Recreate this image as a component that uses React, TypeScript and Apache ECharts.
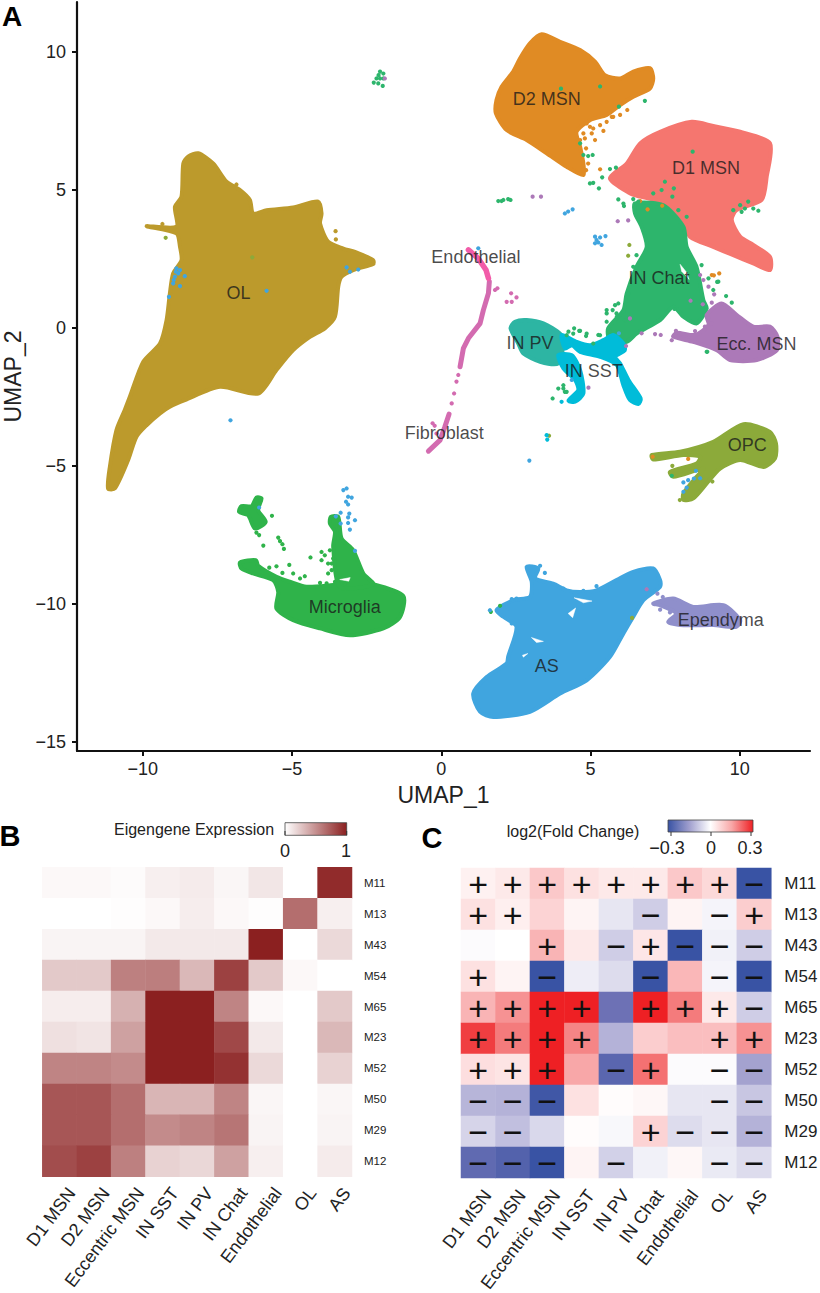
import React, { useEffect, useRef } from "react";
import * as echarts from "echarts";

type P = [number, number];

// ---------- Panel A: UMAP axis ticks ----------
const X_TICKS = [-10, -5, 0, 5, 10];
const Y_TICKS = [-15, -10, -5, 0, 5, 10];

// ---------- Panel A: cluster outlines (UMAP units) ----------
const OL: P[] = [[-8.14,6.32],[-7.64,5.95],[-7.19,5.29],[-6.74,4.99],[-6.41,4.63],[-6.30,4.14],[-5.85,4.26],[-4.96,4.36],[-4.12,4.57],[-4.01,4.14],[-4.06,3.78],[-3.79,3.12],[-3.28,2.87],[-2.89,2.75],[-2.28,2.45],[-2.28,2.31],[-2.95,2.09],[-3.34,1.85],[-3.45,1.49],[-3.56,0.40],[-3.90,-0.02],[-4.40,-0.33],[-4.96,-0.81],[-5.52,-1.53],[-6.13,-2.38],[-7.41,-2.14],[-8.59,-2.62],[-9.09,-2.86],[-9.42,-3.10],[-9.87,-3.53],[-10.21,-3.95],[-10.49,-4.80],[-10.93,-5.82],[-11.16,-5.82],[-11.10,-5.04],[-10.88,-3.71],[-10.60,-2.98],[-10.43,-2.50],[-9.98,-1.23],[-9.42,-0.57],[-9.20,0.28],[-9.09,1.24],[-8.98,1.97],[-8.70,2.45],[-8.75,2.93],[-8.87,3.42],[-9.87,3.68],[-8.87,3.66],[-8.92,4.38],[-8.70,4.75],[-8.64,5.95],[-8.48,6.20]];
const D2: P[] = [[3.36,10.63],[3.98,10.36],[4.65,10.06],[5.15,9.64],[5.48,9.15],[5.99,9.03],[6.43,9.28],[6.99,9.40],[7.10,9.03],[6.99,8.67],[6.43,8.37],[5.99,8.07],[5.54,7.71],[4.98,7.52],[4.53,7.10],[4.65,6.56],[4.76,5.95],[4.76,5.53],[4.20,5.83],[3.53,6.32],[2.86,6.80],[2.19,7.16],[1.83,7.77],[1.85,8.25],[2.02,8.73],[2.41,9.28],[2.64,9.76],[2.97,10.30]];
const D1: P[] = [[8.39,7.46],[9.11,7.31],[10.01,7.10],[11.01,6.68],[10.90,5.47],[10.73,4.63],[9.89,4.26],[9.73,3.90],[10.01,3.30],[10.45,3.00],[11.01,2.57],[11.01,2.09],[10.45,2.33],[9.78,2.63],[9.11,2.93],[8.33,3.30],[8.11,3.90],[7.55,4.50],[6.66,4.75],[6.32,4.87],[5.65,5.41],[6.21,5.95],[6.66,6.68],[7.33,7.10]];
const CHAT: P[] = [[6.49,4.50],[7.44,4.44],[8.11,3.66],[8.22,2.93],[8.55,2.21],[8.78,1.00],[8.89,0.70],[8.55,0.16],[8.11,0.40],[7.77,0.76],[7.33,0.28],[6.54,-0.21],[6.21,-0.51],[5.65,-0.45],[5.59,-0.02],[6.10,0.64],[6.21,1.24],[6.54,2.21],[6.88,2.93],[6.71,3.66],[6.49,4.14]];
const PV: P[] = [[2.86,0.28],[3.42,0.16],[3.98,-0.21],[4.09,-0.57],[3.92,-1.29],[3.31,-1.23],[2.75,-0.93],[2.58,-0.57],[2.32,-0.02],[2.47,0.22]];
const SST_MAIN: P[] = [[4.03,-0.26],[4.54,-0.51],[4.98,-0.63],[5.43,-0.45],[5.76,-0.26],[6.10,-0.57],[6.15,-0.81],[5.82,-1.05],[5.99,-1.29],[6.27,-1.89],[6.68,-2.56],[6.60,-2.76],[6.32,-2.62],[6.10,-2.08],[5.88,-1.35],[5.32,-1.05],[4.65,-0.87],[4.37,-0.63],[4.15,-0.75]];
const SST_LOWER: P[] = [[3.92,-0.99],[4.37,-0.99],[4.65,-1.53],[4.76,-2.38],[4.48,-2.68],[4.26,-2.64],[4.59,-2.26],[4.48,-1.89],[4.09,-1.47]];
const ECC: P[] = [[9.39,0.88],[9.90,0.46],[10.45,0.04],[11.01,0.04],[11.26,-0.32],[11.24,-0.81],[10.57,-1.17],[9.67,-1.17],[9.23,-0.81],[8.44,-0.51],[7.77,-0.32],[7.89,-0.18],[8.50,-0.26],[8.95,0.10],[8.89,0.46]];
const AS: P[] = [[2.86,-8.66],[3.25,-8.72],[3.14,-9.08],[3.75,-9.27],[4.20,-9.51],[4.65,-9.57],[5.20,-9.51],[5.87,-9.14],[6.43,-8.84],[7.10,-8.72],[7.33,-9.14],[7.33,-9.38],[6.77,-9.87],[6.43,-10.47],[6.10,-11.07],[5.65,-11.92],[4.87,-12.77],[3.98,-13.25],[2.97,-13.91],[1.74,-14.10],[1.30,-13.91],[1.07,-13.25],[1.52,-12.65],[2.19,-12.16],[2.24,-11.92],[2.52,-10.83],[2.08,-10.47],[1.85,-10.23],[2.41,-9.87],[2.97,-9.75],[3.03,-9.20]];
const EPENDYMA: P[] = [[7.10,-9.99],[7.77,-9.81],[8.44,-10.11],[9.45,-10.05],[10.01,-10.59],[9.89,-10.83],[9.11,-10.77],[8.00,-10.77],[7.60,-10.65],[7.88,-10.35],[7.33,-10.05]];
const OPC: P[] = [[7.05,-4.61],[8.00,-4.49],[9.11,-4.13],[10.12,-3.49],[11.01,-3.77],[11.21,-4.19],[11.18,-4.73],[10.79,-5.04],[10.01,-4.79],[9.34,-5.10],[8.89,-5.64],[8.44,-6.18],[8.11,-6.24],[8.11,-6.00],[8.55,-5.40],[8.78,-5.10],[7.77,-5.40],[7.66,-5.22],[8.55,-4.92],[8.67,-4.67],[8.11,-4.61],[7.10,-4.77]];
const MICRO: P[] = [[-6.74,-8.50],[-6.21,-8.42],[-6.13,-8.62],[-5.52,-9.02],[-5.07,-9.20],[-4.51,-9.38],[-3.62,-9.32],[-2.95,-9.26],[-2.28,-9.29],[-1.27,-9.72],[-1.38,-10.47],[-1.94,-10.89],[-3.06,-11.14],[-4.06,-10.89],[-4.96,-10.59],[-5.52,-10.17],[-5.46,-9.57],[-5.63,-9.14],[-6.30,-8.90],[-6.69,-8.72]];
const MICRO_SPIKE: P[] = [[-3.70,-6.85],[-3.45,-6.85],[-3.34,-7.63],[-2.95,-8.06],[-2.61,-8.90],[-2.28,-9.29],[-3.39,-9.39],[-3.62,-7.93],[-3.56,-7.39],[-3.73,-7.09]];
const MICRO_ISLET: P[] = [[-6.19,-6.15],[-6.02,-6.18],[-6.13,-6.61],[-5.88,-7.03],[-6.24,-7.27],[-6.47,-6.79],[-6.77,-6.67],[-6.69,-6.46],[-6.35,-6.46]];
const HOLES: P[][] = [
  [[4.25,-10.35],[4.50,-10.15],[4.40,-10.50]],
  [[4.45,-9.78],[5.05,-9.90],[4.76,-9.96]],
  [[3.02,-11.22],[3.42,-11.36],[3.19,-11.40]],
  [[2.72,-11.86],[2.90,-11.80],[2.75,-11.93]],
  [[8.00,2.30],[8.22,2.00],[8.30,1.75],[8.05,2.05]],
  [[-3.40,-9.12],[-3.05,-9.05],[-3.10,-9.18]],
];
const ENDO_LINE: P[] = [[0.91,2.82],[1.24,2.51],[1.50,2.09],[1.58,1.79]];
const FIBRO_LINE: P[] = [[1.61,1.67],[1.58,1.25],[1.41,0.64],[1.30,0.16],[0.91,-0.38],[0.74,-0.75],[0.63,-1.41]];
const FIBRO_TAIL: P[] = [[0.26,-3.13],[0.12,-3.59],[-0.04,-4.07],[-0.43,-4.47]];

// ---------- Panel A: separate cells ----------
const DOTS_GREEN: P[] = [[4.01,8.66],[5.32,8.74],[6.82,8.22],[5.95,8.01],[4.76,6.26],[4.92,6.22],[5.07,6.26],[4.65,6.68],[4.98,5.23],[5.09,5.25],[5.28,5.05],[5.39,5.45],[5.65,5.75],[5.85,5.80],[5.93,4.65],[6.10,4.50],[6.12,4.41],[6.43,4.66],[6.60,4.57],[7.10,4.87],[7.38,4.99],[7.49,5.29],[7.79,5.05],[7.74,4.75],[8.22,4.02],[7.94,4.26],[8.42,6.38],[9.78,4.26],[10.01,4.44],[10.28,4.57],[10.17,4.32],[10.45,4.32],[10.62,4.24],[10.06,4.20],[8.72,2.27],[8.95,1.79],[9.28,1.67],[5.74,0.64],[5.93,0.88],[5.54,0.52],[5.87,0.52],[6.54,2.63],[6.43,2.21],[6.26,1.24],[4.42,-0.21],[4.20,-0.27],[4.62,-0.11],[4.87,-0.21],[5.09,-0.57],[5.32,-0.27],[4.09,-2.20],[3.92,-2.20],[4.20,-2.32],[3.73,-2.56],[8.89,-0.87],[1.91,4.59],[2.08,4.63],[2.24,4.66],[2.32,4.63],[2.02,4.59],[-2.05,9.28],[-1.94,9.21],[-2.17,9.03],[-2.05,9.03],[-2.26,8.88],[-2.11,8.85],[-1.94,9.03],[-1.96,8.76],[-2.10,9.15],[9.54,1.15],[9.73,0.91],[7.81,0.68],[8.91,-0.87],[9.11,1.37],[9.24,1.66],[4.26,-0.14],[4.45,-0.02],[4.65,-0.11],[4.85,-0.30],[5.26,-0.26],[5.54,0.22],[4.14,-2.32],[4.09,-2.08],[5.54,0.64],[5.82,0.82],[6.10,0.58],[5.88,0.40],[6.15,0.28],[5.65,-0.14],[7.72,-5.36]];
const DOTS_MICRO: P[] = [[-6.19,-7.42],[-6.10,-7.51],[-5.96,-7.89],[-5.67,-6.81],[-5.46,-7.60],[-5.40,-7.73],[-5.32,-7.84],[-5.27,-8.01],[-4.38,-8.32],[-4.01,-8.12],[-4.01,-8.42],[-3.73,-8.06],[-3.79,-8.54],[-3.67,-8.78],[-3.79,-8.90],[-3.51,-8.90],[-5.09,-8.59],[-5.76,-8.69],[-5.52,-8.64],[-5.32,-8.88],[-4.96,-8.90],[-4.73,-9.08],[-4.57,-9.00],[-4.06,-9.24],[-3.84,-9.26],[-3.56,-9.20],[-3.23,-9.26],[-3.90,-8.24],[-3.62,-8.36],[-3.67,-8.54],[1.66,-10.29],[1.97,-10.07]];
const DOTS_BLUE: P[] = [[-3.28,-5.88],[-3.17,-5.82],[-3.12,-6.12],[-3.00,-6.15],[-3.19,-6.30],[-3.12,-6.40],[-3.37,-6.70],[-3.08,-6.73],[-3.12,-6.87],[-2.89,-6.97],[-3.12,-7.07],[-3.06,-7.31],[-3.53,-6.83],[-3.37,-7.09],[-2.89,-8.08],[-6.10,-6.51],[-7.06,-3.35],[-8.87,2.15],[-8.92,1.85],[-8.98,1.61],[-8.75,2.09],[-8.59,1.87],[-8.75,1.51],[-9.12,1.12],[-8.81,1.97],[-8.89,2.03],[-8.96,1.73],[-5.85,1.34],[-3.17,2.19],[-2.78,2.11],[-3.06,2.03],[4.14,4.14],[4.25,4.21],[4.40,4.29],[5.15,3.30],[5.20,3.18],[5.32,3.27],[5.15,3.06],[5.37,3.00],[5.50,3.32],[5.26,3.09],[2.95,-4.81],[8.11,-5.60],[8.27,-5.52],[8.53,-5.18],[8.67,-5.45],[8.46,-5.46],[8.22,-5.79],[8.11,-5.94],[1.63,-10.23],[4.37,-1.89],[5.95,-0.20],[1.24,2.88],[2.36,-9.83],[2.52,-9.81],[2.24,-10.17],[2.36,-10.71],[4.09,-9.45],[4.48,-9.63],[4.76,-9.53],[5.20,-9.36],[5.54,-9.42],[3.47,-8.88],[3.31,-8.62]];
const DOTS_PURPLE: P[] = [[3.06,4.75],[3.34,4.75],[5.91,3.86],[6.26,3.89],[-1.89,9.03],[8.35,0.98],[8.76,0.85],[9.06,0.91],[9.14,1.21],[8.95,1.49],[8.78,1.73],[8.67,1.91],[8.83,0.04],[8.50,-0.12],[8.95,0.34],[9.06,0.16],[7.16,-0.23],[7.35,-0.26],[7.72,-0.45],[7.86,-0.11],[4.93,-2.17],[6.19,-0.66],[6.32,0.34],[6.71,-0.20],[6.88,-9.47]];
const DOTS_ORANGE: P[] = [[6.66,4.59],[6.91,4.29],[7.40,4.42],[5.32,5.74],[9.06,1.91],[9.13,1.90],[9.31,1.97],[8.27,-4.75],[7.08,-4.67],[5.15,6.80],[5.43,7.13],[6.23,7.89],[5.99,7.71],[5.71,7.64],[4.98,7.28],[4.76,7.04],[5.04,7.04],[4.81,6.86],[4.87,7.40],[5.09,7.22],[5.32,7.34],[5.54,7.46],[5.76,7.64],[4.65,6.80],[4.85,6.50],[4.92,5.95],[4.85,5.71]];
const DOTS_OLIVE: P[] = [[6.30,3.00],[6.26,2.61],[3.61,-3.91],[7.74,-5.00],[9.08,-5.57],[7.99,-6.24],[6.39,-10.51],[-6.33,2.55],[-9.23,3.26]];
const DOTS_OL: P[] = [[-9.34,3.76],[-6.86,5.19],[-3.54,3.50],[-3.53,3.20]];
const DOTS_CYAN: P[] = [[3.53,-3.89],[3.55,-4.05],[4.03,-2.68]];
const DOTS_FIBRO: P[] = [[0.57,-1.71],[0.51,-1.95],[0.43,-2.38],[0.35,-2.74],[-0.29,-3.46],[-0.16,-3.83],[-0.22,-3.55],[1.88,1.43],[1.80,1.37],[2.34,1.25],[2.52,1.10],[2.36,0.94],[2.19,0.94]];
const DOTS_EPEND: P[] = [[7.33,-10.21],[7.66,-10.31],[7.24,-9.63],[7.42,-9.75]];

// ---------- Panel A: cluster names ----------
const CLUSTER_LABELS: [string, number, number][] = [
  ["OL", -6.79, 1.27], ["D2 MSN", 3.53, 8.29], ["D1 MSN", 8.87, 5.77], ["Endothelial", 1.16, 2.55],
  ["IN Chat", 7.29, 1.79], ["Ecc. MSN", 10.56, -0.60], ["IN PV", 2.97, -0.54], ["IN SST", 5.11, -1.56],
  ["Fibroblast", 0.10, -3.81], ["OPC", 10.25, -4.25], ["Microglia", -3.23, -10.13], ["AS", 3.53, -12.24],
  ["Ependyma", 9.36, -10.57],
];

// ---------- Panels B and C ----------
const CELL_TYPES = ["D1 MSN", "D2 MSN", "Eccentric MSN", "IN SST", "IN PV", "IN Chat", "Endothelial", "OL", "AS"];
const MODULES = ["M11", "M13", "M43", "M54", "M65", "M23", "M52", "M50", "M29", "M12"];
const EIGENGENE = [
  [0.03, 0.03, 0.02, 0.07, 0.09, 0.04, 0.11, 0, 0.95],
  [0, 0, 0.01, 0.03, 0.08, 0.03, 0.01, 0.65, 0.07],
  [0.05, 0.05, 0.05, 0.1, 0.1, 0.1, 1, 0, 0.17],
  [0.24, 0.24, 0.57, 0.58, 0.32, 0.85, 0.24, 0.03, 0],
  [0.08, 0.08, 0.35, 1, 1, 0.55, 0.03, 0, 0.24],
  [0.14, 0.12, 0.42, 1, 1, 0.82, 0.1, 0, 0.32],
  [0.55, 0.55, 0.52, 1, 1, 0.92, 0.17, 0, 0.2],
  [0.76, 0.76, 0.65, 0.33, 0.33, 0.55, 0.04, 0, 0.04],
  [0.76, 0.76, 0.65, 0.52, 0.55, 0.62, 0.05, 0, 0.05],
  [0.8, 0.85, 0.57, 0.2, 0.18, 0.42, 0.07, 0, 0.09],
];
const FOLD_CHANGE = [
  [0.025, 0.04, 0.1, 0.055, 0.04, 0.04, 0.1, 0.07, -0.3],
  [0.055, 0.03, 0.08, 0.02, -0.035, -0.07, 0.02, -0.015, 0.09],
  [-0.005, 0, 0.13, 0.04, -0.07, 0.045, -0.3, -0.02, -0.07],
  [0.055, 0.02, -0.3, -0.025, -0.05, -0.3, 0.125, -0.015, -0.3],
  [0.13, 0.18, 0.3, 0.3, -0.22, 0.3, 0.21, 0.04, -0.07],
  [0.27, 0.21, 0.3, 0.2, -0.11, 0.09, 0.115, 0.115, 0.18],
  [0.06, 0.05, 0.3, 0.15, -0.25, 0.22, -0.005, -0.005, -0.135],
  [-0.105, -0.11, -0.29, 0.055, 0.005, 0.015, -0.035, -0.035, -0.08],
  [-0.06, -0.09, -0.055, 0.005, -0.01, 0.08, -0.05, -0.035, -0.11],
  [-0.24, -0.26, -0.3, 0.02, -0.065, -0.02, 0.015, -0.03, -0.05],
];
const SIGNS = [
  ["+", "+", "+", "+", "+", "+", "+", "+", "−"],
  ["+", "+", "", "", "", "−", "", "−", "+"],
  ["", "", "+", "", "−", "+", "−", "−", "−"],
  ["+", "", "−", "", "", "−", "", "−", "−"],
  ["+", "+", "+", "+", "", "+", "+", "+", "−"],
  ["+", "+", "+", "+", "", "", "", "+", "+"],
  ["+", "+", "+", "", "−", "+", "", "−", "−"],
  ["−", "−", "−", "", "", "", "", "−", "−"],
  ["−", "−", "", "", "", "+", "−", "−", "−"],
  ["−", "−", "−", "", "−", "", "", "−", "−"],
];

const FONT = "'Liberation Sans', Arial, sans-serif";
const INK = "#222";
const fmtMinus = (v: number) => String(v).replace("-", "−");

const polygon = (pts: P[], fill: string, lineWidth = 4, smooth = 0.25) => ({
  type: "custom", xAxisIndex: 0, yAxisIndex: 0, silent: true, clip: false,
  data: [pts[0]], encode: { x: 0, y: 1 },
  renderItem: (_: any, api: any) => ({
    type: "polygon",
    shape: { points: pts.map((p) => api.coord(p)), smooth },
    style: { fill, stroke: fill, lineWidth, lineJoin: "round" },
  }),
});
const polyline = (pts: P[], stroke: string, lineWidth: number) => ({
  type: "custom", xAxisIndex: 0, yAxisIndex: 0, silent: true, clip: false,
  data: [pts[0]], encode: { x: 0, y: 1 },
  renderItem: (_: any, api: any) => ({
    type: "polyline",
    shape: { points: pts.map((p) => api.coord(p)) },
    style: { fill: null, stroke, lineWidth, lineJoin: "round", lineCap: "round" },
  }),
});
const dots = (pts: P[], color: string, size = 4.2) => ({
  type: "scatter", xAxisIndex: 0, yAxisIndex: 0, silent: true, data: pts, symbolSize: size,
  itemStyle: { color, opacity: 1 },
});
const grid = (rows: number[][]) => rows.flatMap((r, y) => r.map((v, x) => [x, y, v]));

const catX = (gridIndex: number, lineHeight: number, margin: number) => ({
  type: "category", gridIndex, data: CELL_TYPES, position: "bottom",
  axisLine: { show: false }, axisTick: { show: false }, splitLine: { show: false },
  axisLabel: { rotate: 53, interval: 0, margin, fontSize: 18, color: INK, fontFamily: FONT, verticalAlign: "top", lineHeight },
});
const catY = (gridIndex: number, fontSize: number, margin: number) => ({
  type: "category", gridIndex, data: MODULES, inverse: true, position: "right",
  axisLine: { show: false }, axisTick: { show: false }, splitLine: { show: false },
  axisLabel: { interval: 0, fontSize, margin, color: INK, fontFamily: FONT },
});
const txt = (x: number, y: number, text: string, fontSize: number, extra: any = {}) => ({
  type: "text", x, y, silent: true,
  style: { text, fontSize, fontFamily: FONT, fill: INK, textAlign: "center", textVerticalAlign: "middle", ...extra },
});
const seg = (x1: number, y1: number, x2: number, y2: number) => ({
  type: "line", silent: true, shape: { x1, y1, x2, y2 }, style: { stroke: "#333", lineWidth: 1 },
});

export default function App() {
  const ref = useRef<HTMLDivElement>(null);
  useEffect(() => {
    document.body.style.margin = "0";
    const chart = echarts.init(ref.current!, undefined, { renderer: "svg" });
    const axisA = { lineStyle: { color: "#111", width: 2.2 } };
    chart.setOption({
      animation: false,
      backgroundColor: "#fff",
      grid: [
        { left: 77, top: 2, width: 733, height: 749, outerBoundsMode: "none" },
        { left: 42.3, top: 867.3, width: 309.7, height: 309.4, outerBoundsMode: "none" },
        { left: 461, top: 868, width: 310.3, height: 310, outerBoundsMode: "none" },
      ],
      xAxis: [
        {
          type: "value", gridIndex: 0, min: -12.2, max: 12.35, splitLine: { show: false },
          name: "UMAP_1", nameLocation: "middle", nameGap: 32,
          nameTextStyle: { fontSize: 23, color: INK, fontFamily: FONT },
          axisLine: { ...axisA, onZero: false },
          axisTick: { customValues: X_TICKS, length: 5, lineStyle: { color: "#111", width: 2 } },
          axisLabel: { customValues: X_TICKS, fontSize: 18, margin: 9, color: INK, fontFamily: FONT, formatter: fmtMinus },
        },
        catX(1, 30, 4), catX(2, 23, 7),
      ],
      yAxis: [
        {
          type: "value", gridIndex: 0, min: -15.33, max: 11.8, splitLine: { show: false },
          name: "UMAP_2", nameLocation: "middle", nameGap: 51,
          nameTextStyle: { fontSize: 23, color: INK, fontFamily: FONT },
          axisLine: { ...axisA, onZero: false },
          axisTick: { customValues: Y_TICKS, length: 5, lineStyle: { color: "#111", width: 2 } },
          axisLabel: { customValues: Y_TICKS, fontSize: 18, margin: 11, color: INK, fontFamily: FONT, formatter: fmtMinus },
        },
        catY(1, 11.5, 12), catY(2, 17, 13),
      ],
      visualMap: [
        { show: false, type: "continuous", seriesIndex: 0, dimension: 2, min: 0, max: 1, inRange: { color: ["#ffffff", "#8B2020"] } },
        {
          show: false, type: "continuous", seriesIndex: 1, dimension: 2, min: -0.3, max: 0.3,
          inRange: { color: ["#3953A4", "#7A79B9", "#BAB8DB", "#ffffff", "#FBC8C9", "#F58586", "#EE2024"] },
        },
      ],
      series: [
        { type: "heatmap", xAxisIndex: 1, yAxisIndex: 1, silent: true, data: grid(EIGENGENE), itemStyle: { borderWidth: 0 } },
        {
          type: "heatmap", xAxisIndex: 2, yAxisIndex: 2, silent: true, data: grid(FOLD_CHANGE), itemStyle: { borderWidth: 0 },
          label: {
            show: true, fontSize: 34, color: "#111", fontFamily: FONT,
            formatter: (p: any) => SIGNS[p.data[1]][p.data[0]],
          },
        },
        polygon(OL, "#BC9A2C"),
        polygon(D2, "#E08B24"),
        polygon(D1, "#F5766F"),
        polygon(CHAT, "#2DB56C"),
        polygon(ECC, "#AC79B8"),
        polygon(PV, "#2DB5A3"),
        polygon(SST_MAIN, "#00BCD9"),
        polygon(SST_LOWER, "#00BCD9"),
        polygon(AS, "#40A5DF"),
        polygon(EPENDYMA, "#8F8FCB"),
        polygon(OPC, "#8CAA3A"),
        polygon(MICRO, "#2FB34A"),
        polygon(MICRO_SPIKE, "#2FB34A"),
        polygon(MICRO_ISLET, "#2FB34A"),
        ...HOLES.map((h) => polygon(h, "#ffffff", 0.5, 0)),
        polyline(FIBRO_LINE, "#D36BB0", 5),
        polyline(FIBRO_TAIL, "#D36BB0", 5),
        polyline(ENDO_LINE, "#F25CA9", 5.5),
        dots(DOTS_FIBRO, "#D36BB0"),
        dots(DOTS_OL, "#BC9A2C"),
        dots(DOTS_ORANGE, "#E08B24"),
        dots(DOTS_GREEN, "#2DB56C"),
        dots(DOTS_MICRO, "#2FB34A"),
        dots(DOTS_PURPLE, "#AC79B8"),
        dots(DOTS_BLUE, "#40A5DF"),
        dots(DOTS_OLIVE, "#8CAA3A"),
        dots(DOTS_CYAN, "#00BCD9"),
        dots(DOTS_EPEND, "#8F8FCB"),
        {
          type: "scatter", xAxisIndex: 0, yAxisIndex: 0, silent: true, symbolSize: 0,
          data: CLUSTER_LABELS.map(([name, x, y]) => ({ name, value: [x, y] })),
          label: { show: true, position: "inside", formatter: "{b}", fontSize: 18, color: "#1a1a1a", fontFamily: FONT },
        },
      ],
      graphic: [
        txt(12, 16, "A", 28, { fontWeight: "bold", fill: "#000" }),
        txt(10, 836, "B", 29, { fontWeight: "bold", fill: "#000" }),
        txt(432, 838, "C", 29, { fontWeight: "bold", fill: "#000" }),
        txt(194, 829, "Eigengene Expression", 16),
        txt(573, 831, "log2(Fold Change)", 16),
        {
          type: "rect", silent: true, shape: { x: 285, y: 822.7, width: 61.7, height: 12.6 },
          style: {
            fill: new echarts.graphic.LinearGradient(0, 0, 1, 0, [{ offset: 0, color: "#ffffff" }, { offset: 1, color: "#8B2020" }]),
            stroke: "#444", lineWidth: 0.8,
          },
        },
        seg(285, 835.3, 285, 831), seg(346.7, 835.3, 346.7, 831),
        txt(285, 851, "0", 18), txt(346, 851, "1", 18),
        {
          type: "rect", silent: true, shape: { x: 668, y: 820, width: 85, height: 12 },
          style: {
            fill: new echarts.graphic.LinearGradient(0, 0, 1, 0, [
              { offset: 0, color: "#3953A4" }, { offset: 0.25, color: "#A09FCE" }, { offset: 0.5, color: "#ffffff" },
              { offset: 0.75, color: "#F8A7A7" }, { offset: 1, color: "#EE2024" },
            ]),
            stroke: "#444", lineWidth: 0.8,
          },
        },
        seg(671, 832, 671, 836), seg(711, 832, 711, 836), seg(751, 832, 751, 836),
        txt(667, 848, "−0.3", 18), txt(711, 848, "0", 18), txt(750, 848, "0.3", 18),
      ],
    });
    return () => chart.dispose();
  }, []);
  return <div ref={ref} style={{ position: "absolute", left: 0, top: 0, width: 820, height: 1293 }} />;
}
